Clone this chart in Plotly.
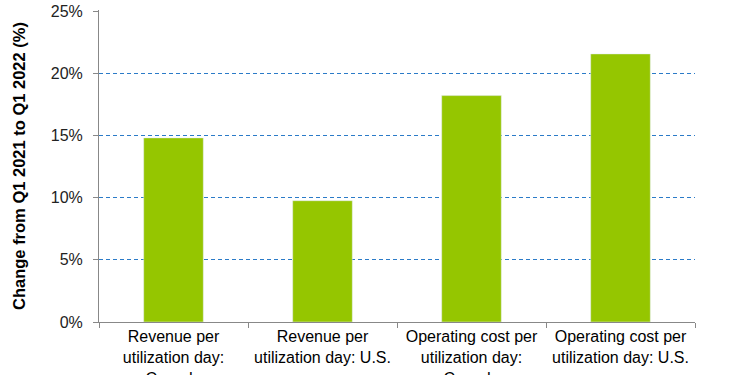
import plotly.graph_objects as go

categories = [
    "Revenue per<br>utilization day:<br>Canada",
    "Revenue per<br>utilization day: U.S.",
    "Operating cost per<br>utilization day:<br>Canada",
    "Operating cost per<br>utilization day: U.S.",
]
values = [14.8, 9.75, 18.2, 21.55]
y_ticks = [0, 5, 10, 15, 20, 25]
y_tick_labels = ["0%", "5%", "10%", "15%", "20%", "25%"]

fig = go.Figure(go.Bar(
    x=categories, y=values, marker_color="#95c600", width=0.4,
    hoverinfo="skip",
))

fig.update_layout(
    width=732, height=375,
    margin=dict(l=99, r=37, t=10, b=53),
    paper_bgcolor="white", plot_bgcolor="white",
    font=dict(family="Liberation Sans, Arial, sans-serif", color="#000000"),
    showlegend=False,
    bargap=0.6,
)
fig.update_xaxes(
    showline=True, linecolor="#888888", linewidth=1,
    ticks="outside", tickson="boundaries", ticklen=5, tickcolor="#888888",
    tickfont=dict(size=16, color="#000000"),
    showgrid=False, automargin=False,
)
fig.update_yaxes(
    range=[0, 25.08], tickvals=y_ticks, ticktext=y_tick_labels,
    showline=True, linecolor="#888888", linewidth=1,
    ticks="outside", ticklen=5, tickcolor="#888888",
    tickfont=dict(size=16, color="#222222"), ticklabelstandoff=7,
    showgrid=True, gridcolor="#2b7bc8", gridwidth=1, griddash="4px,3px",
    zeroline=False, automargin=False,
    title=dict(text="<b>Change from Q1 2021 to Q1 2022 (%)</b>",
               font=dict(size=16.5, color="#000000"), standoff=20),
)
fig.write_html(
    "out.html",
    config={"displayModeBar": False},
    post_script="document.body.style.margin='0';",
)
